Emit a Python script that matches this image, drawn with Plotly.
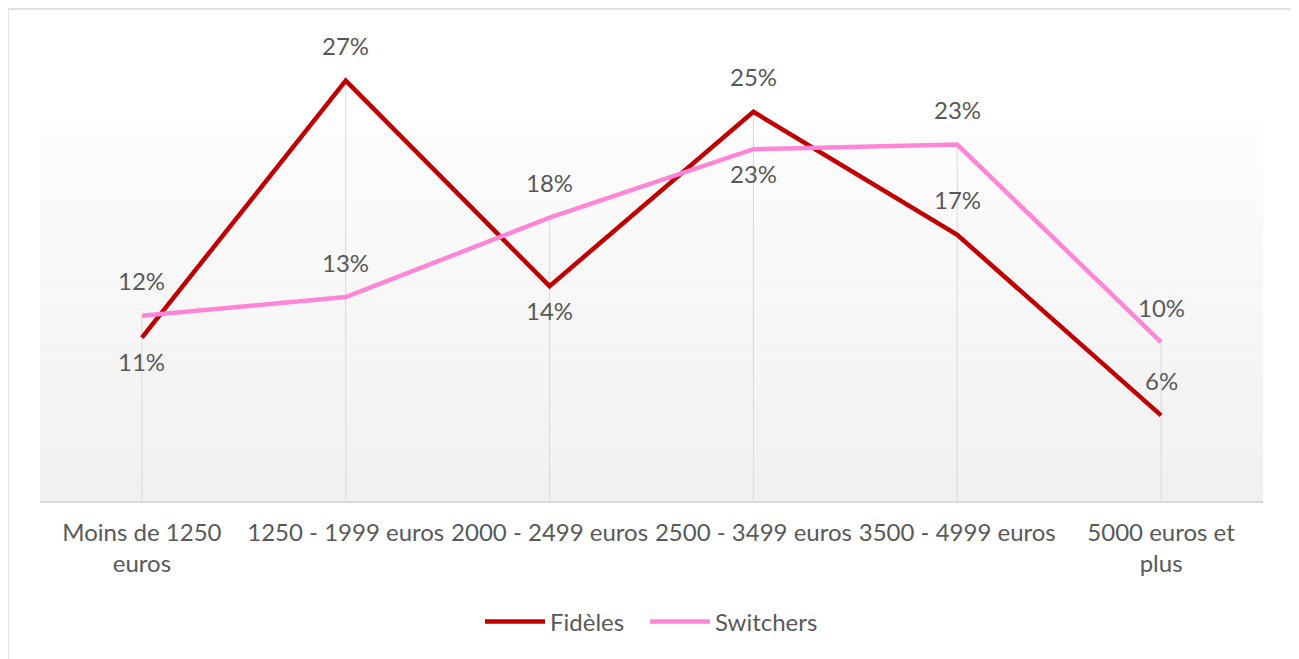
import plotly.graph_objects as go

categories = ["Moins de 1250<br>euros", "1250 - 1999 euros", "2000 - 2499 euros",
              "2500 - 3499 euros", "3500 - 4999 euros", "5000 euros et<br>plus"]
fideles = [10.5, 27.0, 13.8, 25.0, 17.1, 5.5]
switchers = [11.9, 13.1, 18.2, 22.6, 22.9, 10.2]
fideles_labels = ["11%", "27%", "14%", "25%", "17%", "6%"]
switchers_labels = ["12%", "13%", "18%", "23%", "23%", "10%"]

# label placement (style, not data)
fideles_pos = ["below", "above", "below", "above", "above", "above"]
switchers_pos = ["above", "above", "above", "below", "above", "above"]

FONT = "Lato"
TXT = "#595959"
RED = "#C00000"
PINK = "#FF86D6"

OFF = 8  # page body margin
W, H = 1299 - OFF, 659 - OFF
L, T = 40 - OFF, 34 - OFF
R = W - (1263 - OFF)
B = H - (501 - OFF)
ph = H - T - B
pw = W - L - R

def px_to_paper_x(px):
    return (px - OFF - L) / pw

def px_to_paper_y(py):
    return (H - B - (py - OFF)) / ph

fig = go.Figure()

# drop lines from axis to the highest point per category
dx, dy = [], []
for i, c in enumerate(categories):
    dx += [c, c, None]
    dy += [0, max(fideles[i], switchers[i]), None]
fig.add_trace(go.Scatter(x=dx, y=dy, mode="lines", line=dict(color="#d9d9d9", width=1),
                         showlegend=False, hoverinfo="skip"))

fig.add_trace(go.Scatter(x=categories, y=fideles, mode="lines", name="Fidèles",
                         line=dict(color=RED, width=4.5), legendwidth=90))
fig.add_trace(go.Scatter(x=categories, y=switchers, mode="lines", name="Switchers",
                         line=dict(color=PINK, width=4.5)))

annotations = []
for vals, labs, pos in [(fideles, fideles_labels, fideles_pos),
                        (switchers, switchers_labels, switchers_pos)]:
    for c, v, lab, p in zip(categories, vals, labs, pos):
        annotations.append(dict(x=c, y=v, text=lab, showarrow=False,
                                yshift=35 if p == "above" else -24,
                                font=dict(family=FONT, size=24, color=TXT)))

# gradient background bands
shapes = []
top_paper = px_to_paper_y(122)
n = 60
c_bot = 240
c_top = 253
for k in range(n):
    y0 = top_paper * k / n
    y1 = top_paper * (k + 1) / n
    cv = round(c_bot + (c_top - c_bot) * (k + 0.5) / n)
    shapes.append(dict(type="rect", xref="paper", yref="paper", x0=0, x1=1, y0=y0, y1=y1,
                       fillcolor=f"rgb({cv},{cv},{cv})", line=dict(width=0), layer="below"))

# chart border
shapes.append(dict(type="rect", xref="paper", yref="paper",
                   x0=px_to_paper_x(8), x1=px_to_paper_x(1295),
                   y0=px_to_paper_y(720), y1=px_to_paper_y(9),
                   line=dict(color="#d9d9d9", width=1.5), fillcolor="rgba(0,0,0,0)", layer="below"))

fig.update_layout(
    width=W, height=H,
    margin=dict(l=L, r=R, t=T, b=B),
    paper_bgcolor="white", plot_bgcolor="white",
    font=dict(family=FONT, size=24, color=TXT),
    shapes=shapes,
    annotations=annotations,
    showlegend=True,
    legend=dict(orientation="h", x=0.5, xanchor="center", y=px_to_paper_y(622), yanchor="middle",
                font=dict(family=FONT, size=24, color=TXT), bgcolor="rgba(0,0,0,0)",
                itemwidth=60),
    xaxis=dict(type="category", categoryorder="array", categoryarray=categories,
               range=[-0.5, 5.5], showgrid=False, zeroline=False,
               showline=True, linecolor="#d9d9d9", linewidth=1.5,
               ticks="", ticklabelstandoff=9,
               tickfont=dict(family=FONT, size=24, color=TXT), fixedrange=True),
    yaxis=dict(range=[0, 30], showgrid=False, zeroline=False, showticklabels=False,
               showline=False, ticks="", fixedrange=True),
)

fig.write_html("out.html")
